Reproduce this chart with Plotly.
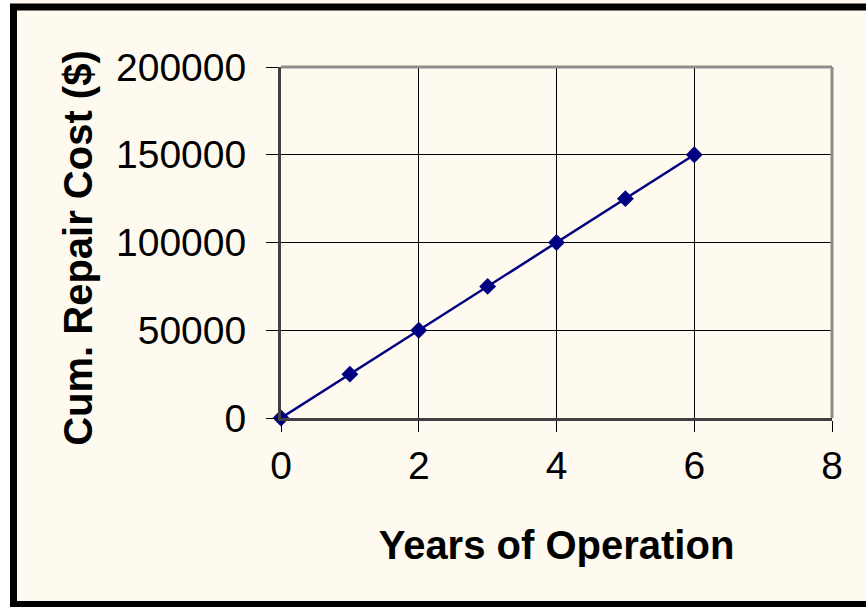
import plotly.graph_objects as go

years = [0, 1, 2, 3, 4, 5, 6]
cum_cost = [0, 25000, 50000, 75000, 100000, 125000, 150000]

cream = "#FEFAEF"
W, H = 866, 607
L, R, T, B = 281, 34, 67, 189
pw, ph = W - L - R, H - T - B


def px(x):
    return (x - L) / pw


def py(y):
    return (H - B - y) / ph


fig = go.Figure()
fig.add_trace(go.Scatter(
    x=years, y=cum_cost, mode="lines+markers",
    line=dict(color="#000080", width=2.5),
    marker=dict(symbol="diamond", size=13, color="#000080"),
    cliponaxis=False,
))

font = dict(family="Liberation Sans, Arial, sans-serif", color="black")

fig.update_xaxes(
    range=[0, 8], dtick=2, tick0=0,
    showgrid=True, gridcolor="black", gridwidth=1,
    zeroline=False, showline=True, linecolor="#404040", linewidth=3,
    ticks="outside", ticklen=11, tickcolor="black", tickwidth=1,
    tickfont=dict(size=39, **font),
    title=dict(text="<b>Years of Operation</b>", font=dict(size=40, **font), standoff=46),
)
fig.update_yaxes(
    range=[0, 200000], dtick=50000, tickformat="d",
    showgrid=True, gridcolor="black", gridwidth=1,
    zeroline=False, showline=True, linecolor="#404040", linewidth=3,
    ticks="outside", ticklen=12, tickcolor="black", tickwidth=1, ticklabelstandoff=12,
    tickfont=dict(size=39, **font),
    title=dict(text="<b>Cum. Repair Cost ($)\u00a0</b>", font=dict(size=40, **font), standoff=12),
)

shapes = [
    # gray top and right frame of the plot area
    dict(type="line", xref="paper", yref="paper", x0=0, x1=1, y0=1, y1=1,
         line=dict(color="#8C8C8C", width=3)),
    dict(type="line", xref="paper", yref="paper", x0=1, x1=1, y0=0, y1=1,
         line=dict(color="#8C8C8C", width=3)),
    # white strip left of the outer frame
    dict(type="rect", xref="paper", yref="paper", x0=px(-20), x1=px(10), y0=py(H + 20), y1=py(-20),
         fillcolor="white", line=dict(width=0), layer="below"),
    # outer black frame
    dict(type="rect", xref="paper", yref="paper", x0=px(13.5), x1=px(890), y0=py(604.5), y1=py(7),
         line=dict(color="black", width=7)),
]

fig.update_layout(
    width=W, height=H,
    margin=dict(l=L, r=R, t=T, b=B, autoexpand=False),
    paper_bgcolor=cream, plot_bgcolor=cream,
    showlegend=False,
    shapes=shapes,
)
fig.update_xaxes(automargin=False)
fig.update_yaxes(automargin=False)

fig.write_html("out.html", config={"displayModeBar": False},
               post_script="document.body.style.margin='0';document.body.style.overflow='hidden';")
